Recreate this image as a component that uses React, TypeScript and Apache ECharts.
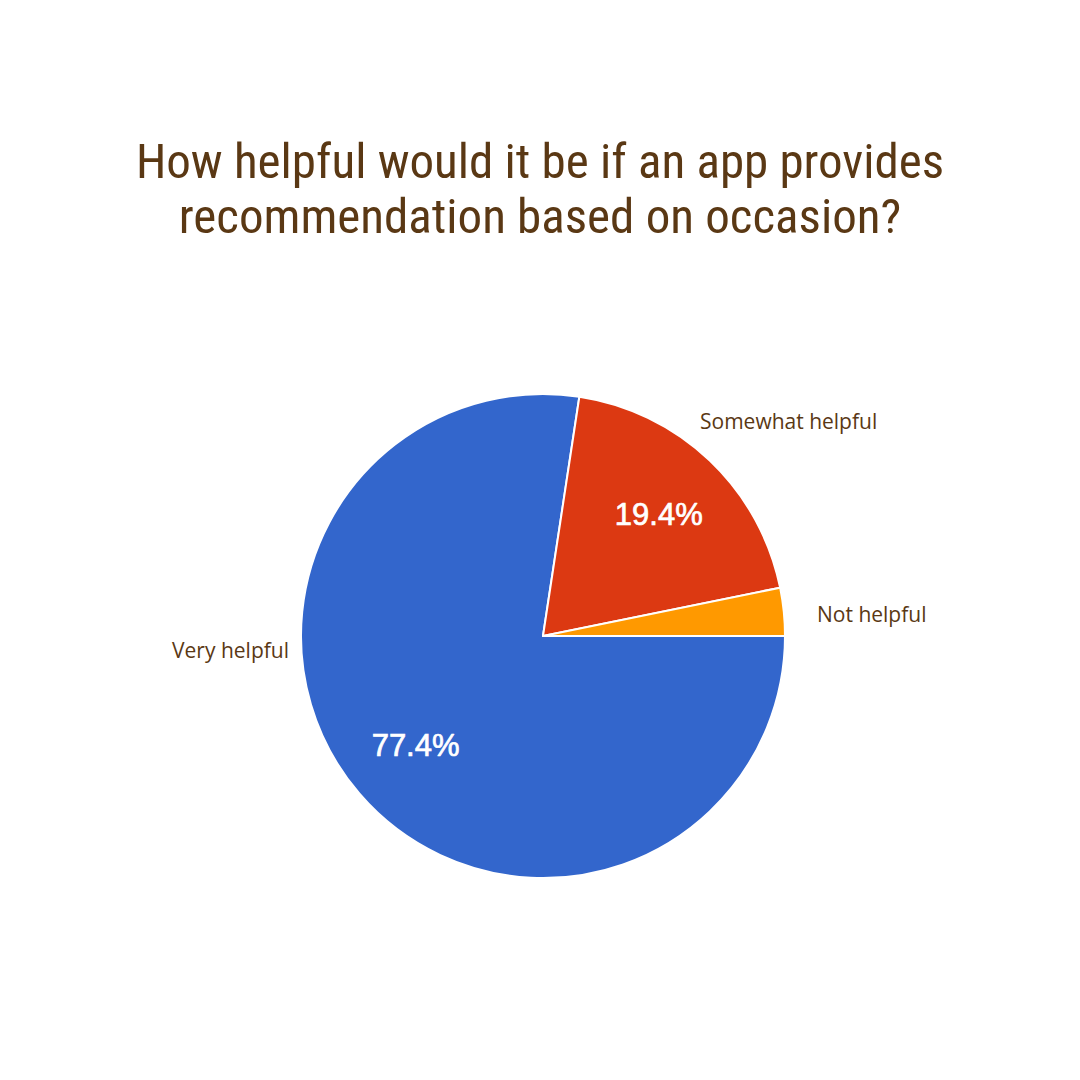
import React, { useEffect, useRef } from "react";
import * as echarts from "echarts";

const titleLines = [
  "How helpful would it be if an app provides",
  "recommendation based on occasion?",
];
const categories = ["Very helpful", "Somewhat helpful", "Not helpful"];
const values = [77.4, 19.4, 3.2];
const colors = ["#3366cc", "#dc3912", "#ff9900"];
const showPercent = [true, true, false];

// label anchor positions (style only)
const labelAnchors = [
  { x: 289, y: 650, align: "right" },
  { x: 700, y: 421, align: "left" },
  { x: 817, y: 614, align: "left" },
];

export default function App() {
  const ref = useRef<HTMLDivElement>(null);
  useEffect(() => {
    if (!ref.current) return;
    const chart = echarts.init(ref.current, null, { renderer: "svg" });
    const data = categories.map((name, i) => ({
      name,
      value: values[i],
      itemStyle: { color: colors[i] },
    }));
    chart.setOption({
      animation: false,
      backgroundColor: "#ffffff",
      title: {
        text: titleLines.join("\n"),
        left: "center",
        top: 129,
        textStyle: {
          fontFamily: "Roboto Condensed, Liberation Sans Narrow, Roboto, sans-serif",
          fontSize: 49,
          fontWeight: "normal",
          color: "#5a3814",
          lineHeight: 55,
        },
      },
      series: [
        {
          type: "pie",
          center: [543, 636],
          radius: [0, 242],
          startAngle: 0,
          clockwise: true,
          data,
          itemStyle: { borderColor: "#ffffff", borderWidth: 2 },
          label: {
            show: true,
            position: "outside",
            formatter: "{b}",
            fontFamily: "Open Sans, Noto Sans, sans-serif",
            fontSize: 21,
            color: "#5a3814",
          },
          labelLine: { show: false },
          labelLayout: (params: any) => {
            const a = labelAnchors[params.dataIndex];
            return { x: a.x, y: a.y, align: a.align, verticalAlign: "middle" };
          },
          emphasis: { disabled: true },
        },
        {
          type: "pie",
          center: [543, 636],
          radius: [88, 242],
          startAngle: 0,
          clockwise: true,
          silent: true,
          data: categories.map((name, i) => ({
            name,
            value: values[i],
            itemStyle: { color: "transparent" },
            label: { show: showPercent[i] },
          })),
          label: {
            position: "inside",
            formatter: (p: any) => p.value.toFixed(1) + "%",
            fontFamily: "Liberation Sans, Arial, sans-serif",
            fontSize: 31,
            color: "#ffffff",
            textBorderColor: "#ffffff",
            textBorderWidth: 0.7,
          },
          labelLine: { show: false },
          emphasis: { disabled: true },
        },
      ],
    });
    return () => chart.dispose();
  }, []);
  return (
    <div
      ref={ref}
      style={{ position: "absolute", left: 0, top: 0, width: 1080, height: 1080 }}
    />
  );
}
